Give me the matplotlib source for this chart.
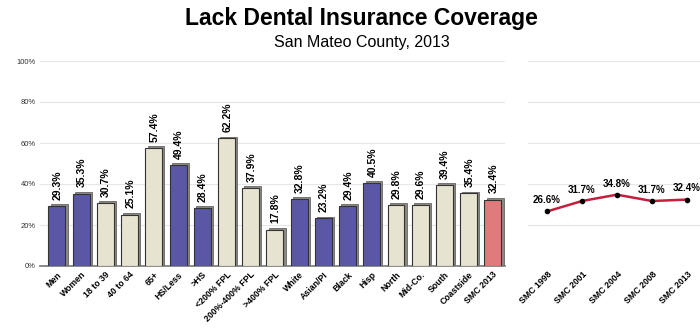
import matplotlib
matplotlib.use("Agg")
import matplotlib.pyplot as plt
import numpy as np

groups = ["Men", "Women", "18 to 39", "40 to 64", "65+", "HS/Less", ">HS",
          "<200% FPL", "200%-400% FPL", ">400% FPL", "White", "Asian/PI", "Black",
          "Hisp", "North", "Mid-Co.", "South", "Coastside", "SMC 2013"]
values = [29.3, 35.3, 30.7, 25.1, 57.4, 49.4, 28.4, 62.2, 37.9, 17.8, 32.8, 23.2,
          29.4, 40.5, 29.8, 29.6, 39.4, 35.4, 32.4]
kinds = ["b", "b", "t", "t", "t", "b", "b", "t", "t", "t", "b", "b", "b", "b",
         "t", "t", "t", "t", "r"]

years = ["SMC 1998", "SMC 2001", "SMC 2004", "SMC 2008", "SMC 2013"]
trend = [26.6, 31.7, 34.8, 31.7, 32.4]

palette = {"b": "#5a58a6", "t": "#e6e3d1", "r": "#e07b7b"}
colors = [palette[k] for k in kinds]

fig = plt.figure(figsize=(7, 3.31), dpi=100)

fig.text(0.517, 0.943, "Lack Dental Insurance Coverage", ha="center", va="center",
         fontsize=16.5, fontweight="bold", family="Liberation Sans")
fig.text(0.517, 0.872, "San Mateo County, 2013", ha="center", va="center",
         fontsize=11.5, family="Liberation Sans")

# --- bar chart ---
ax = fig.add_axes([40 / 700, 65 / 331, 465 / 700, 205 / 331])
x = np.arange(len(groups))
vals = np.array(values)
ax.bar(x + 0.09, vals + 0.9, width=0.7, color="#8c8a80", edgecolor="#555555",
       linewidth=0.5, zorder=2)
ax.bar(x, vals, width=0.7, color=colors, edgecolor="#333333", linewidth=0.8, zorder=3)
for xi, v in zip(x, vals):
    ax.text(xi + 0.03, v + 3, f"{v:.1f}%", rotation=90, ha="center", va="bottom",
            fontsize=7.5, fontweight="bold", family="Liberation Sans", zorder=4)

ax.set_xlim(-0.7, 18.5)
ax.set_ylim(0, 100)
ax.set_yticks([0, 20, 40, 60, 80, 100])
ax.set_yticklabels(["0%", "20%", "40%", "60%", "80%", "100%"], fontsize=5.5,
                   family="Liberation Sans", color="#333333")
ax.set_xticks(x)
ax.set_xticklabels(groups, rotation=45, ha="right", rotation_mode="anchor",
                   fontsize=6.3, fontweight="bold", family="Liberation Sans")
ax.tick_params(length=0, pad=3)
ax.yaxis.grid(True, color="#e6e6e6", lw=0.8, zorder=0)
for s in ["top", "right", "left"]:
    ax.spines[s].set_visible(False)
ax.spines["bottom"].set_color("#777777")
ax.spines["bottom"].set_linewidth(1.2)

# --- trend line ---
ax2 = fig.add_axes([528 / 700, 65 / 331, 172 / 700, 205 / 331])
xt = np.arange(len(years))
ax2.plot(xt, trend, color="#c4203e", lw=1.8, zorder=3)
ax2.plot(xt, trend, "o", color="black", ms=3, zorder=4)
for xi, v in zip(xt, trend):
    ax2.text(xi, v + 3, f"{v:.1f}%", ha="center", va="bottom", fontsize=7,
             fontweight="bold", family="Liberation Sans")
ax2.set_xlim(-0.54, 4.37)
ax2.set_ylim(0, 100)
ax2.set_yticks([0, 20, 40, 60, 80, 100])
ax2.set_yticklabels([])
ax2.set_xticks(xt)
ax2.set_xticklabels(years, rotation=45, ha="right", rotation_mode="anchor",
                    fontsize=6.3, fontweight="bold", family="Liberation Sans")
ax2.tick_params(length=0, pad=3)
ax2.yaxis.grid(True, color="#e6e6e6", lw=0.8, zorder=0)
for s in ["top", "right", "left", "bottom"]:
    ax2.spines[s].set_visible(False)

fig.savefig("out.png", dpi=100)
